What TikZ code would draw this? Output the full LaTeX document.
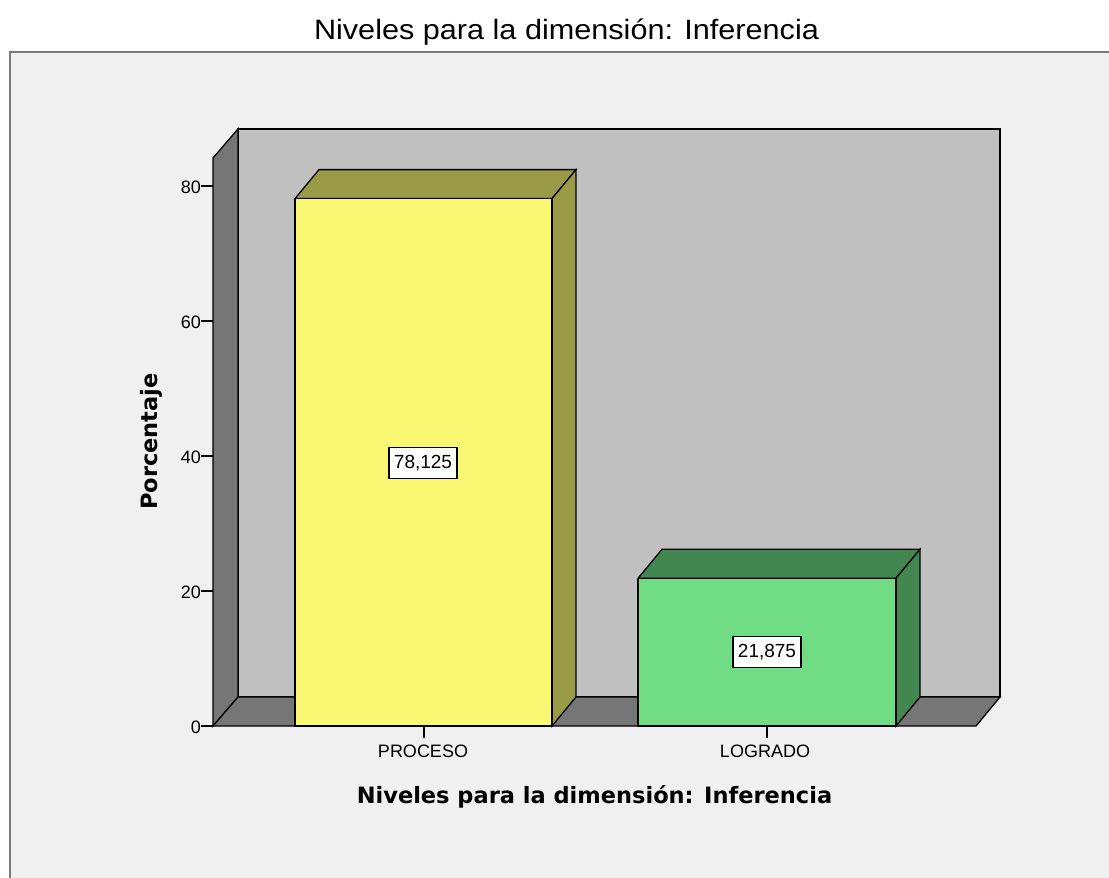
\documentclass[tikz,border=0pt]{standalone}
\usepackage{fontspec}
\setmainfont{Liberation Sans}
\newfontfamily\dvb{DejaVu Sans}
\definecolor{framebg}{HTML}{F0F0F0}
\definecolor{wallback}{HTML}{C0C0C0}
\definecolor{walldark}{HTML}{767676}
\definecolor{yelfront}{HTML}{FAF873}
\definecolor{yeldark}{HTML}{9B9A47}
\definecolor{grnfront}{HTML}{70DC84}
\definecolor{grndark}{HTML}{428650}
\definecolor{framelin}{HTML}{7A7A7A}
\tikzset{
  outl/.style={draw=black, line width=1.3pt, line join=miter},
  ticklab/.style={font=\fontsize{18}{21}\selectfont, inner sep=0pt},
  valbox/.style={draw=black, fill=white, line width=1.1pt, minimum width=68pt, minimum height=31pt, inner sep=0pt, font=\fontsize{19}{22}\selectfont},
  axtitle/.style={font=\dvb\bfseries\fontsize{22.5}{27}\selectfont, inner sep=0pt},
}
\begin{document}
\begin{tikzpicture}[x=1pt,y=-1pt]
\useasboundingbox (0,0) rectangle (1109,878);
\fill[white] (0,0) rectangle (1109,878);
% outer frame
\fill[framebg] (10,52) rectangle (1120,890);
\draw[framelin, line width=2pt] (10,890) -- (10,52) -- (1120,52);
% title
\node[anchor=base, inner sep=0pt, font=\fontsize{28}{32}\selectfont] (title) at (566.5,39) {\resizebox{505pt}{\height}{Niveles para la dimensión: Inferencia}};
% back wall
\filldraw[outl, fill=wallback] (238,129) rectangle (1000,697);
% left wall
\filldraw[outl, fill=walldark] (213,726) -- (213,158) -- (238,129) -- (238,697) -- cycle;
% floor
\filldraw[outl, fill=walldark] (213,726) -- (238,697) -- (1000,697) -- (976,726) -- cycle;
% bar PROCESO
\def\yt{198.6}
\filldraw[outl, fill=yeldark] (295,\yt) -- (319,\yt-29) -- (576,\yt-29) -- (552,\yt) -- cycle;
\filldraw[outl, fill=yeldark] (552,\yt) -- (576,\yt-29) -- (576,697) -- (552,726) -- cycle;
\filldraw[outl, fill=yelfront] (295,\yt) rectangle (552,726);
% bar LOGRADO
\def\yg{578.3}
\filldraw[outl, fill=grndark] (638,\yg) -- (662,\yg-29) -- (920,\yg-29) -- (896,\yg) -- cycle;
\filldraw[outl, fill=grndark] (896,\yg) -- (920,\yg-29) -- (920,697) -- (896,726) -- cycle;
\filldraw[outl, fill=grnfront] (638,\yg) rectangle (896,726);
% y axis ticks and labels
\foreach \v/\nm in {0/a,20/b,40/c,60/d,80/e} {
  \coordinate (yt\nm) at (213,726-\v*6.75);
  \coordinate (ys\nm) at (201,726-\v*6.75);
  \draw[black, line width=1.3pt] (ys\nm) -- (yt\nm);
  \node[ticklab, anchor=east] (yl\nm) at ([yshift=-1.5pt]ys\nm) {\v};
}
% x ticks
\coordinate (xp) at (424,726);
\coordinate (xpb) at (424,738);
\coordinate (xl) at (767,726);
\coordinate (xlb) at (767,738);
\draw[black, line width=1.3pt] (xp) -- (xpb);
\draw[black, line width=1.3pt] (xl) -- (xlb);
\node[ticklab, anchor=base] (proceso) at (423,757) {PROCESO};
\node[ticklab, anchor=base] (logrado) at (765,757) {LOGRADO};
% value labels
\node[valbox] (v1) at (423,463) {78,125};
\node[valbox] (v2) at (767,652) {21,875};
% axis titles
\node[axtitle, anchor=base] (xtitle) at (594.5,803) {Niveles para la dimensión: Inferencia};
\node[axtitle, anchor=base, rotate=90] (ytitle) at (157,441.5) {Porcentaje};
\end{tikzpicture}
\end{document}
